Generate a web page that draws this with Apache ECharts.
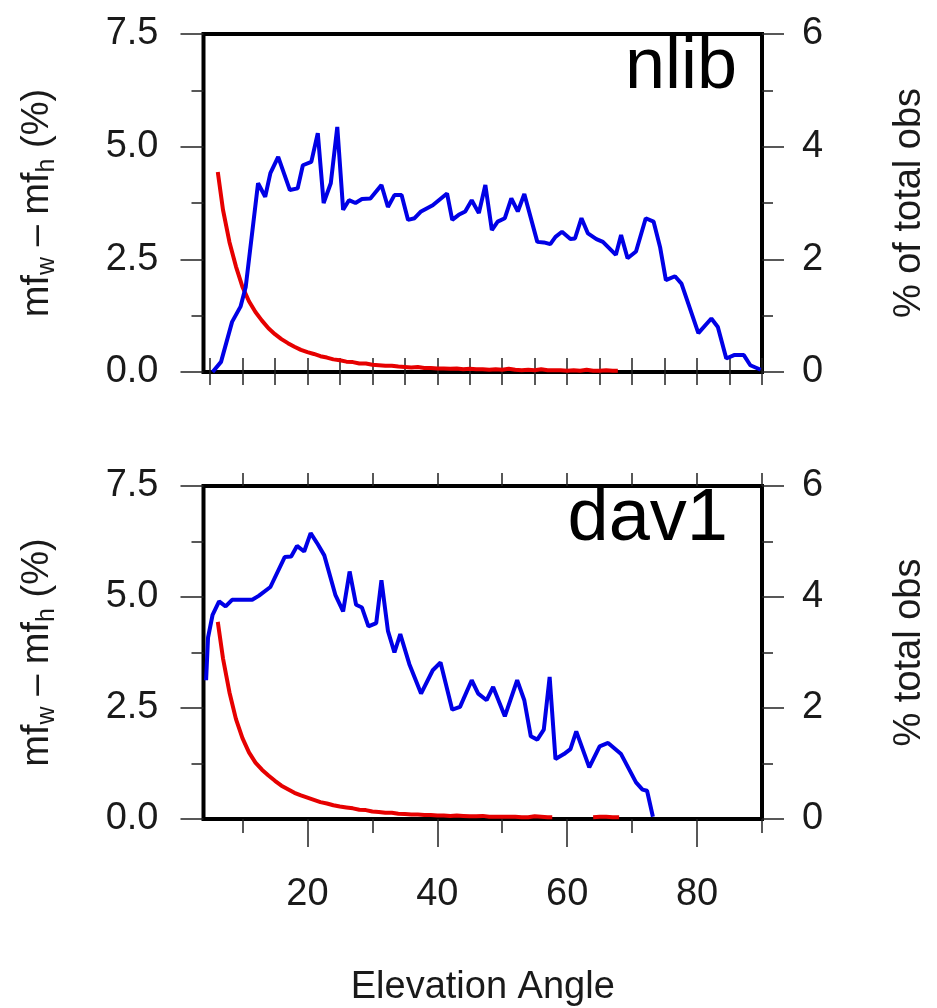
<!DOCTYPE html>
<html>
<head>
<meta charset="utf-8">
<script src="https://cdn.jsdelivr.net/npm/echarts@6/dist/echarts.min.js"></script>
<style>
html,body{margin:0;padding:0;background:#fff;}
#chart{width:937px;height:1008px;}
</style>
</head>
<body>
<div id="chart"></div>
<script>
// ---------- data ----------
const panelNames = ['nlib', 'dav1'];
const rightTitles = ['% of total obs', '% total obs'];
const xTitle = 'Elevation Angle';
const leftTicks = [0, 2.5, 5, 7.5];
const rightTicks = [0, 2, 4, 6];
const xLabelValues = [20, 40, 60, 80];

// nlib: % of total obs (blue, right axis)
const nlibObsX = [5.4, 6.7, 8.4, 9.7, 10.5, 12.4, 13.5, 14.3, 15.5, 17.3, 18.5, 19.3, 20.6, 21.6, 22.5, 23.6, 24.6, 25.5, 26.4, 27.4, 28.4, 29.7, 31.4, 32.4, 33.4, 34.5, 35.5, 36.5, 37.5, 39.3, 41.5, 42.3, 43.3, 44.3, 45.3, 46.4, 47.4, 48.4, 49.3, 50.4, 51.4, 52.4, 53.4, 55.4, 56.4, 57.4, 58.2, 59.2, 60.5, 61.2, 62.2, 63.2, 64.5, 65.5, 67.5, 68.3, 69.3, 70.6, 72.1, 73.3, 74.3, 75.2, 76.6, 77.6, 80.2, 82.2, 83.2, 84.5, 85.7, 87.2, 88.2, 89.8];
const nlibObsY = [0, 0.18, 0.89, 1.16, 1.51, 3.35, 3.11, 3.53, 3.82, 3.23, 3.26, 3.67, 3.73, 4.24, 3.0, 3.35, 4.35, 2.88, 3.05, 3.0, 3.07, 3.08, 3.32, 2.93, 3.14, 3.14, 2.70, 2.73, 2.85, 2.96, 3.17, 2.70, 2.79, 2.85, 3.05, 2.82, 3.32, 2.52, 2.67, 2.73, 3.08, 2.85, 3.16, 2.31, 2.30, 2.27, 2.40, 2.49, 2.36, 2.37, 2.73, 2.46, 2.36, 2.31, 2.08, 2.43, 2.02, 2.14, 2.73, 2.67, 2.22, 1.63, 1.70, 1.57, 0.69, 0.95, 0.80, 0.24, 0.30, 0.30, 0.12, 0.04];

// nlib: mf_w - mf_h (red, left axis)
const nlibDiffX = [6.2, 7, 8, 9, 10, 11, 12, 13, 14, 15, 16, 17, 18, 19, 20, 21, 22, 23, 24, 25, 26, 27, 28, 29, 30, 31, 32, 33, 34, 35, 36, 37, 38, 39, 40, 41, 42, 43, 44, 45, 46, 47, 48, 49, 50, 51, 52, 53, 54, 55, 56, 57, 58, 59, 60, 61, 62, 63, 64, 65, 66, 67, 67.8];
const nlibDiffY = [4.44, 3.60, 2.88, 2.34, 1.89, 1.57, 1.33, 1.14, 0.97, 0.84, 0.73, 0.64, 0.56, 0.49, 0.44, 0.40, 0.35, 0.32, 0.28, 0.26, 0.23, 0.22, 0.19, 0.19, 0.16, 0.15, 0.14, 0.14, 0.12, 0.11, 0.10, 0.11, 0.09, 0.09, 0.08, 0.08, 0.07, 0.08, 0.06, 0.07, 0.06, 0.06, 0.05, 0.06, 0.05, 0.07, 0.05, 0.04, 0.05, 0.04, 0.06, 0.04, 0.04, 0.04, 0.03, 0.04, 0.03, 0.05, 0.03, 0.03, 0.04, 0.03, 0.03];

// dav1: % total obs (blue, right axis)
const dav1ObsX = [4.4, 4.7, 5.4, 6.4, 7.4, 8.4, 11.5, 12.5, 14.3, 16.5, 17.5, 18.4, 19.5, 20.5, 21.6, 22.6, 24.3, 25.5, 26.5, 27.5, 28.4, 29.4, 30.6, 31.4, 32.4, 33.4, 34.3, 35.7, 37.5, 39.3, 40.5, 42.3, 43.5, 45.3, 46.3, 47.6, 48.6, 50.4, 52.3, 53.4, 54.4, 55.4, 56.4, 57.3, 58.2, 59.5, 60.5, 61.4, 63.4, 65.0, 66.3, 68.3, 70.6, 71.6, 72.3, 73.2];
const dav1ObsY = [2.50, 3.27, 3.68, 3.92, 3.83, 3.95, 3.95, 4.02, 4.18, 4.72, 4.73, 4.92, 4.82, 5.15, 4.95, 4.75, 4.04, 3.74, 4.46, 3.86, 3.81, 3.47, 3.53, 4.30, 3.39, 3.00, 3.33, 2.79, 2.26, 2.68, 2.82, 1.97, 2.02, 2.50, 2.26, 2.14, 2.38, 1.85, 2.50, 2.14, 1.49, 1.43, 1.61, 2.56, 1.08, 1.17, 1.26, 1.58, 0.93, 1.31, 1.37, 1.17, 0.66, 0.53, 0.51, 0.04];

// dav1: mf_w - mf_h (red, left axis); null = gap
const dav1DiffX = [6.2, 7, 8, 9, 10, 11, 12, 13, 14, 15, 16, 17, 18, 19, 20, 21, 22, 23, 24, 25, 26, 27, 28, 29, 30, 31, 32, 33, 34, 35, 36, 37, 38, 39, 40, 41, 42, 43, 44, 45, 46, 47, 48, 49, 50, 51, 52, 53, 54, 55, 56, 57, 57.7, 60, 64, 65, 66, 67, 68];
const dav1DiffY = [4.44, 3.62, 2.85, 2.25, 1.82, 1.50, 1.27, 1.11, 0.98, 0.86, 0.75, 0.67, 0.59, 0.53, 0.48, 0.43, 0.38, 0.35, 0.31, 0.28, 0.26, 0.24, 0.21, 0.20, 0.17, 0.16, 0.14, 0.14, 0.12, 0.11, 0.10, 0.10, 0.09, 0.09, 0.08, 0.08, 0.07, 0.08, 0.07, 0.06, 0.06, 0.07, 0.05, 0.05, 0.05, 0.05, 0.05, 0.04, 0.04, 0.06, 0.05, 0.04, 0.04, null, 0.04, 0.05, 0.05, 0.04, 0.04];

// ---------- build ----------
const FONT = 'Liberation Sans, Arial, Helvetica, sans-serif';
const BLUE = '#0000e6';
const RED = '#e60000';
const TXT = '#1a1a1a';
const TICK = {lineStyle: {color: '#222', width: 1.5}};
const pairs = (xs, ys) => xs.map((x, i) => [x, ys[i]]);
const range = (a, b, s) => { const r = []; for (let v = a; v <= b + 1e-9; v += s) r.push(v); return r; };

const grids = [
  {left: 203.5, top: 34, width: 567.5, height: 338},
  {left: 203.5, top: 486, width: 567.5, height: 338}
].map(g => Object.assign(g, {show: true, borderColor: '#000', borderWidth: 4, backgroundColor: 'transparent', containLabel: false}));

function xAx(grid, pos, ticks, len, labels) {
  const ax = {
    type: 'value', gridIndex: grid, position: pos, min: 4, max: 90,
    axisLine: {show: false}, splitLine: {show: false},
    axisTick: Object.assign({show: true, length: len, customValues: ticks}, TICK),
    axisLabel: {show: false}
  };
  if (labels) {
    ax.axisLabel = {show: true, customValues: labels, fontSize: 38, fontFamily: FONT, color: TXT, margin: 76, verticalAlign: 'middle'};
    ax.name = xTitle; ax.nameLocation = 'middle'; ax.nameGap = 150;
    ax.nameTextStyle = {fontSize: 38, fontFamily: FONT, color: TXT};
  }
  return ax;
}

const xAxes = [
  xAx(0, 'bottom', range(5, 90, 5), 13, null),
  xAx(0, 'top', range(5, 90, 5), 14, null),
  xAx(1, 'bottom', xLabelValues, 28, xLabelValues),
  xAx(1, 'bottom', range(10, 90, 20), 14, null),
  xAx(1, 'top', range(10, 90, 10), 13, null)
];

function leftY(grid) {
  return {
    type: 'value', gridIndex: grid, position: 'left', min: leftTicks[0], max: leftTicks[leftTicks.length - 1], interval: leftTicks[1] - leftTicks[0],
    axisLine: {show: false}, splitLine: {show: false},
    axisTick: Object.assign({show: true, length: 23}, TICK),
    minorTick: Object.assign({show: true, splitNumber: 2, length: 12}, TICK),
    axisLabel: {fontSize: 38, fontFamily: FONT, color: TXT, margin: 45, formatter: v => v.toFixed(1)},
    name: '{a|mf}{s|w}{a| – mf}{s|h}{a| (%)}', nameLocation: 'middle', nameRotate: 90, nameGap: 144,
    nameTextStyle: {fontFamily: FONT, color: TXT, rich: {
      a: {fontSize: 38, fontFamily: FONT, color: TXT, lineHeight: 44},
      s: {fontSize: 25, fontFamily: FONT, color: TXT, lineHeight: 25, verticalAlign: 'bottom'}
    }}
  };
}
function rightY(grid, title) {
  return {
    type: 'value', gridIndex: grid, position: 'right', min: rightTicks[0], max: rightTicks[rightTicks.length - 1], interval: rightTicks[1] - rightTicks[0],
    axisLine: {show: false}, splitLine: {show: false},
    axisTick: Object.assign({show: true, length: 22}, TICK),
    minorTick: Object.assign({show: true, splitNumber: 2, length: 11}, TICK),
    axisLabel: {fontSize: 38, fontFamily: FONT, color: TXT, margin: 40},
    name: title, nameLocation: 'middle', nameRotate: 90, nameGap: 129,
    nameTextStyle: {fontSize: 38, fontFamily: FONT, color: TXT}
  };
}
const yAxes = [leftY(0), rightY(0, rightTitles[0]), leftY(1), rightY(1, rightTitles[1])];

function line(data, color, xi, yi) {
  return {type: 'line', data: data, xAxisIndex: xi, yAxisIndex: yi, showSymbol: false, symbol: 'none',
    connectNulls: false, lineStyle: {color: color, width: 4}, itemStyle: {color: color}, z: 3};
}

const option = {
  animation: false,
  backgroundColor: '#fff',
  title: [
    {text: panelNames[0], right: 195, top: 27, textStyle: {fontSize: 72, fontWeight: 'normal', fontFamily: FONT, color: '#000'}},
    {text: panelNames[1], right: 204, top: 478, textStyle: {fontSize: 74, fontWeight: 'normal', fontFamily: FONT, color: '#000'}}
  ],
  grid: grids,
  xAxis: xAxes,
  yAxis: yAxes,
  series: [
    line(pairs(nlibDiffX, nlibDiffY), RED, 0, 0),
    line(pairs(nlibObsX, nlibObsY), BLUE, 0, 1),
    line(pairs(dav1DiffX, dav1DiffY), RED, 2, 2),
    line(pairs(dav1ObsX, dav1ObsY), BLUE, 2, 3)
  ]
};

const chart = echarts.init(document.getElementById('chart'), null, {renderer: 'canvas'});
chart.setOption(option);
</script>
</body>
</html>
